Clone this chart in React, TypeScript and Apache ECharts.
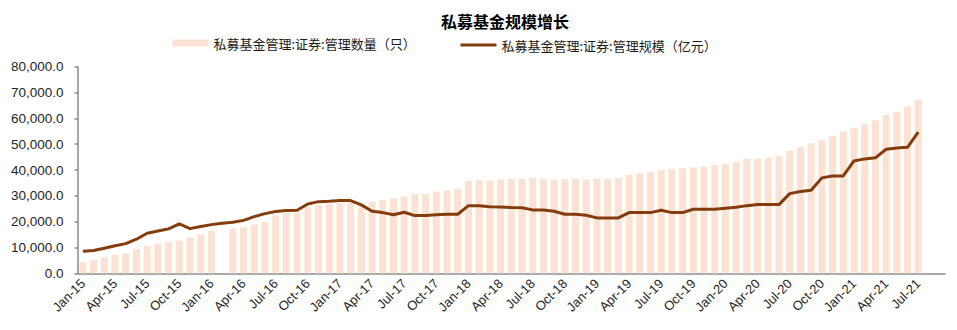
import React, { useEffect, useRef } from "react";
import * as echarts from "echarts";

const monthNames = ["Jan", "Feb", "Mar", "Apr", "May", "Jun", "Jul", "Aug", "Sep", "Oct", "Nov", "Dec"];
const yearSuffixes = ["15", "16", "17", "18", "19", "20", "21"];
// Axis runs Jan-15 .. Sep-21 (last two months empty)
const categories: string[] = [];
yearSuffixes.forEach((y) => monthNames.forEach((m) => categories.push(`${m}-${y}`)));
const axisCategories = categories.slice(0, categories.indexOf("Sep-21") + 1);

const barName = "私募基金管理:证券:管理数量（只）";
const lineName = "私募基金管理:证券:管理规模（亿元）";

// 管理数量（只） Jan-15 .. Jul-21
const fundCount: (number | null)[] = [
  4400, 5200, 6200, 7100, 7750, 9400, 10700, 11500, 12100, 12650, 13950, 15100,
  16400, null, 17300, 17800, 18850, 19900, 22700, 23400, 23500, 25500, 26300, 26800,
  27100, 27400, 26800, 27750, 28400, 29050, 29800, 30750, 30750, 31650, 32150, 32800,
  35800, 36150, 35900, 36400, 36500, 36550, 36950, 36550, 36300, 36550, 36550, 36300,
  36700, 36550, 36950, 38100, 38750, 39150, 39900, 40300, 40700, 40950, 41300, 41950,
  42350, 43150, 44400, 44400, 44800, 45450, 47500, 48850, 50400, 51550, 53200, 54900,
  56200, 57750, 59300, 61250, 62400, 64450, 67200,
];

// 管理规模（亿元） Jan-15 .. Jul-21
const fundScale: number[] = [
  8500, 8800, 9700, 10700, 11500, 13200, 15500, 16400, 17200, 19100, 17300, 18100,
  18850, 19400, 19750, 20500, 21950, 23100, 23900, 24300, 24400, 26850, 27750, 27900,
  28150, 28150, 26500, 24000, 23500, 22700, 23650, 22350, 22350, 22700, 22850, 22850,
  26200, 26200, 25800, 25700, 25500, 25400, 24550, 24550, 24000, 22850, 22850, 22500,
  21450, 21450, 21450, 23500, 23500, 23500, 24400, 23500, 23500, 24800, 24800, 24800,
  25200, 25600, 26200, 26600, 26600, 26600, 30850, 31650, 32150, 36950, 37700, 37700,
  43500, 44300, 44700, 48050, 48550, 48800, 54650,
];

const yMin = 0;
const yMax = 80000;
const yStep = 10000;

const FONT = "'Liberation Sans', Arial, 'Noto Sans CJK SC', sans-serif";
const CJK = "'Noto Sans CJK SC', 'Liberation Sans', sans-serif";

export default function App() {
  const ref = useRef<HTMLDivElement>(null);
  useEffect(() => {
    if (!ref.current) return;
    const chart = echarts.init(ref.current, undefined, { renderer: "svg" });
    const axisColor = "#8a8a8a";
    chart.setOption({
      animation: false,
      title: {
        text: "私募基金规模增长",
        left: 433,
        top: 4,
        padding: 0,
        textStyle: { fontSize: 16, lineHeight: 18, fontWeight: "bold", color: "#000", fontFamily: CJK },
      },
      legend: [
        {
          data: [{ name: barName, icon: "rect" }],
          left: 159.5,
          top: 23.5,
          itemWidth: 36,
          itemHeight: 7,
          itemGap: 5,
          selectedMode: false,
          textStyle: { fontSize: 13, color: "#1a1a1a", fontFamily: CJK },
        },
        {
          data: [{ name: lineName, icon: "rect" }],
          left: 447.5,
          top: 25.5,
          itemWidth: 36,
          itemHeight: 3,
          selectedMode: false,
          textStyle: { fontSize: 13, color: "#1a1a1a", fontFamily: CJK },
        },
      ],
      grid: { left: 68.3, right: 4, top: 58.7, bottom: 56.7, containLabel: false },
      xAxis: {
        type: "category",
        data: axisCategories,
        boundaryGap: true,
        axisLine: { lineStyle: { color: axisColor, width: 1.5 } },
        axisTick: { interval: 2, length: 4, lineStyle: { color: axisColor, width: 1.5 } },
        axisLabel: {
          interval: 2,
          rotate: 45,
          fontSize: 13,
          margin: 8,
          color: "#262626",
          fontFamily: FONT,
        },
      },
      yAxis: {
        type: "value",
        min: yMin,
        max: yMax,
        interval: yStep,
        splitLine: { show: false },
        axisLine: { show: true, lineStyle: { color: axisColor, width: 1.5 } },
        axisTick: { show: true, length: 3, lineStyle: { color: axisColor, width: 1.5 } },
        axisLabel: {
          margin: 14,
          fontSize: 13.5,
          color: "#262626",
          fontFamily: FONT,
          formatter: (v: number) =>
            v.toLocaleString("en-US", { minimumFractionDigits: 1, maximumFractionDigits: 1 }),
        },
      },
      series: [
        {
          name: barName,
          type: "bar",
          data: fundCount,
          barWidth: 7,
          itemStyle: { color: "#fbe2d3" },
        },
        {
          name: lineName,
          type: "line",
          data: fundScale,
          symbol: "none",
          lineStyle: { color: "#843c0c", width: 3 },
          itemStyle: { color: "#843c0c" },
        },
      ],
    });
    return () => chart.dispose();
  }, []);
  return <div ref={ref} style={{ width: 941, height: 322 }} />;
}
